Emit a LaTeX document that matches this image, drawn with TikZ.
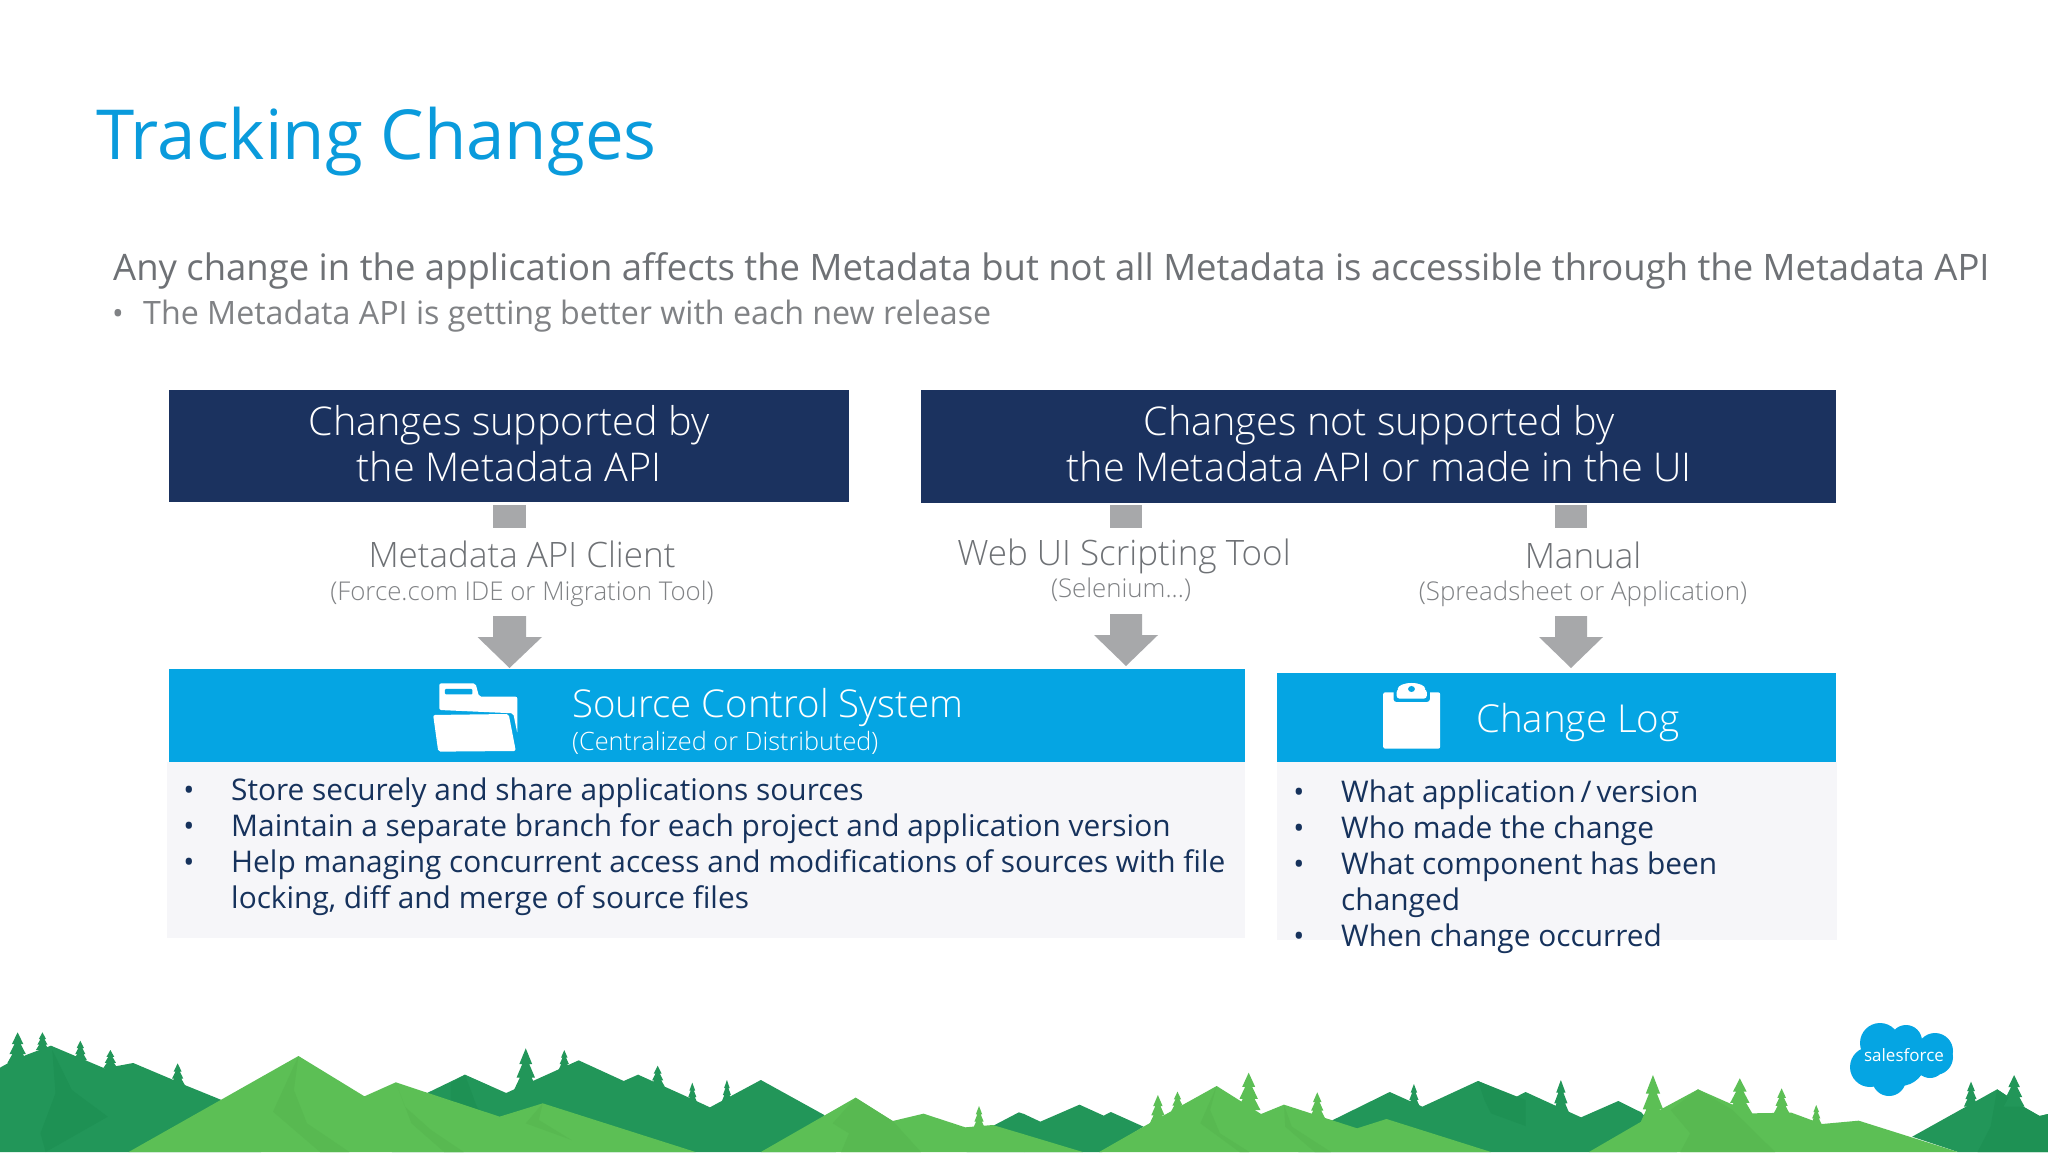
\documentclass[tikz,border=0pt]{standalone}
\usepackage{fontspec}
\setmainfont{Open Sans}
\newfontfamily\lightf{Open Sans Light}
\definecolor{ttl}{HTML}{0A9BDC}
\definecolor{gra}{HTML}{6E7175}
\definecolor{grb}{HTML}{808285}
\definecolor{navy}{HTML}{1B325F}
\definecolor{navt}{HTML}{16325C}
\definecolor{sky}{HTML}{05A5E3}
\definecolor{pane}{HTML}{F6F6F9}
\definecolor{arr}{HTML}{A7A8AA}
\definecolor{dk}{HTML}{229659}
\definecolor{dkb}{HTML}{1E9154}
\definecolor{lt}{HTML}{5CBF55}
\definecolor{ltb}{HTML}{58B951}
\newcommand{\fs}[1]{\fontsize{#1}{#1}\selectfont}
\newcommand{\firtree}[4]{% x, top, bottom, half width
  \fill (#1,#2) -- ({#1+0.55*#4},{#2+0.38*(#3-#2)}) -- ({#1+0.3*#4},{#2+0.38*(#3-#2)})
   -- ({#1+0.78*#4},{#2+0.7*(#3-#2)}) -- ({#1+0.5*#4},{#2+0.7*(#3-#2)}) -- ({#1+#4},#3)
   -- ({#1-#4},#3) -- ({#1-0.5*#4},{#2+0.7*(#3-#2)}) -- ({#1-0.78*#4},{#2+0.7*(#3-#2)})
   -- ({#1-0.3*#4},{#2+0.38*(#3-#2)}) -- ({#1-0.55*#4},{#2+0.38*(#3-#2)}) -- cycle;}
\tikzset{
 hdr/.style={fill=navy,draw=none},
 bar/.style={fill=sky,draw=none},
 panel/.style={fill=pane,draw=none},
 arrowfill/.style={fill=arr,draw=none},
 htext/.style={anchor=base,text=white,inner sep=0pt,font=\lightf\fs{39.6}},
 gt/.style={anchor=base,text=gra,inner sep=0pt,font=\lightf\fs{35}},
 gs/.style={anchor=base,text=grb,inner sep=0pt,font=\lightf\fs{25.85}},
 li/.style={anchor=base west,text=navt,inner sep=0pt,font=\fs{29.85}},
 bul/.style={anchor=base,text=navt,inner sep=0pt,font=\fs{29.5}},
 bt/.style={anchor=base west,text=white,inner sep=0pt},
}
\begin{document}
\begin{tikzpicture}[x=1pt,y=-1pt]
\useasboundingbox (0,0) rectangle (2048,1152);
\fill[white] (0,0) rectangle (2048,1152);
% mountains, left half
\begin{scope}[shift={(0,1000)},x=0.6531pt,y=-0.3333pt]
 \fill[dk] (0,456) -- (0,203) -- (12,190) -- (40,165) -- (78,137) -- (160,205) -- (204,189) -- (262,237) -- (284,256) -- (338,299) -- (400,456) -- cycle;
 \fill[dkb] (80,150) -- (110,270) -- (165,350) -- (70,456) -- (62,400) -- (85,280) -- cycle;
 \fill[dk] (600,456) -- (655,278) -- (712,224) -- (775,279) -- (825,235) -- (886,181) -- (955,243) -- (977,224) -- (1055,293) -- (1087,322) -- (1165,240) -- (1262,345) -- (1280,456) -- cycle;
 \fill[dk] (1480,456) -- (1520,378) -- (1560,337) -- (1568,342) -- (1568,456) -- cycle;
 \fill[dkb] (712,224) -- (730,320) -- (740,345) -- (690,320) -- (690,250) -- cycle;
 \begin{scope}[dk]
 \firtree{27}{97}{190}{16} \firtree{65}{97}{150}{10} \firtree{123}{122}{180}{10}
 \firtree{169}{150}{205}{11} \firtree{272}{190}{255}{11} \firtree{805}{145}{270}{18}
 \firtree{864}{150}{210}{9} \firtree{1007}{197}{260}{11} \firtree{1060}{248}{310}{8}
 \firtree{1113}{240}{305}{8}
 \end{scope}
 \begin{scope}[lt]
 \firtree{1499}{318}{385}{9}
 \end{scope}
 \fill[lt] (197,456) -- (457,168) -- (558,289) -- (606,247) -- (765,350) -- (831,310) -- (1065,456) -- cycle;
 \fill[ltb] (457,168) -- (450,270) -- (470,370) -- (535,456) -- (490,456) -- (418,335) -- cycle;
 \fill[ltb] (606,247) -- (620,320) -- (660,390) -- (710,456) -- (680,456) -- (630,370) -- cycle;
 \fill[ltb] (831,310) -- (825,360) -- (875,420) -- (805,370) -- cycle;
 \fill[lt] (1165,456) -- (1310,293) -- (1367,363) -- (1414,341) -- (1478,382) -- (1520,375) -- (1568,403) -- (1568,456) -- cycle;
 \fill[ltb] (1310,293) -- (1368,365) -- (1410,456) -- (1288,456) -- (1300,400) -- (1275,370) -- cycle;
\end{scope}
% mountains, right half
\begin{scope}[shift={(1024,1000)},x=0.6531pt,y=-0.3333pt]
 \fill[dk] (0,456) -- (0,342) -- (25,365) -- (85,314) -- (122,347) -- (133,336) -- (183,380) -- (120,456) -- cycle;
 \fill[dk] (420,456) -- (473,360) -- (560,276) -- (610,320) -- (695,243) -- (752,292) -- (768,276) -- (845,345) -- (853,352) -- (910,303) -- (945,337) -- (1000,456) -- cycle;
 \fill[dkb] (695,243) -- (768,300) -- (768,378) -- (715,340) -- (705,300) -- cycle;
 \fill[dk] (1360,410) -- (1490,268) -- (1530,320) -- (1555,348) -- (1568,342) -- (1568,456) -- (1430,456) -- cycle;
 \fill[dkb] (1490,268) -- (1530,320) -- (1555,348) -- (1568,342) -- (1568,456) -- (1460,456) -- (1480,380) -- cycle;
 \begin{scope}[dk]
 \firtree{597}{252}{320}{9} \firtree{822}{240}{340}{13}
 \firtree{1450}{245}{320}{11} \firtree{1516}{225}{320}{16}
 \end{scope}
 \begin{scope}[lt]
 \firtree{205}{285}{372}{13} \firtree{235}{275}{335}{10} \firtree{344}{218}{330}{18}
 \firtree{449}{277}{355}{12} \firtree{963}{225}{372}{20} \firtree{1096}{235}{340}{19}
 \firtree{1160}{265}{340}{12} \firtree{1213}{315}{372}{8}
 \end{scope}
 \fill[lt] (0,403) -- (90,456) -- (0,456) -- cycle;
 \fill[lt] (115,456) -- (183,380) -- (295,258) -- (363,342) -- (398,314) -- (510,385) -- (555,357) -- (715,456) -- cycle;
 \fill[ltb] (295,258) -- (285,330) -- (300,400) -- (345,456) -- (330,456) -- (270,370) -- cycle;
 \fill[ltb] (398,314) -- (410,380) -- (470,456) -- (445,456) -- (400,380) -- cycle;
 \fill[lt] (865,456) -- (945,365) -- (978,325) -- (1032,268) -- (1115,340) -- (1175,338) -- (1222,372) -- (1278,362) -- (1430,456) -- cycle;
 \fill[ltb] (1032,268) -- (1085,330) -- (1150,456) -- (1005,456) -- (1020,400) -- (990,330) -- cycle;
\end{scope}
% logo
\fill[sky] (1880,1043) circle (20) (1906,1041) circle (16) (1935,1051) circle (18)
 (1935,1057) circle (18) (1930,1063) circle (15) (1889,1079) circle (17)
 (1870,1067) circle (20) (1900,1060) circle (26);
\node[anchor=base,text=white,inner sep=0pt,font=\fs{17}] (logo) at (1904,1061) {salesforce};
% title and intro
\node[anchor=base west,text=ttl,inner sep=0pt,font=\fs{69}] (title) at (96,159) {Tracking Changes};
\node[anchor=base west,text=gra,inner sep=0pt,font=\fs{36.45}] (intro) at (113,280) {Any change in the application affects the Metadata but not all Metadata is accessible through the Metadata API};
\node[anchor=base,text=grb,inner sep=0pt,font=\fs{31}] (introb) at (118,324) {•};
\node[anchor=base west,text=grb,inner sep=0pt,font=\fs{32.2}] (introt) at (143,324) {The Metadata API is getting better with each new release};
% headers
\path[hdr] (169,390) rectangle (849,502);
\path[hdr] (921,390) rectangle (1836,503);
\node[htext] (h1a) at (509,435) {Changes supported by};
\node[htext] (h1b) at (509,481) {the Metadata API};
\node[htext] (h2a) at (1379,435) {Changes not supported by};
\node[htext] (h2b) at (1379,481) {the Metadata API or made in the UI};
% stubs and arrows
\path[arrowfill] (493,505) rectangle (526,528);
\path[arrowfill] (1110,505) rectangle (1142,528);
\path[arrowfill] (1555,505) rectangle (1587,528);
\path[arrowfill] (493,616) -- (526,616) -- (526,637) -- (542,637) -- (509.5,668) -- (477.5,637) -- (493,637) -- cycle;
\path[arrowfill] (1110,614) -- (1142,614) -- (1142,635) -- (1158,635) -- (1126,666) -- (1094,635) -- (1110,635) -- cycle;
\path[arrowfill] (1555,616) -- (1587,616) -- (1587,637) -- (1603,637) -- (1571,668) -- (1539,637) -- (1555,637) -- cycle;
\node[gt] (c1) at (522,567) {Metadata API Client};
\node[gs] (c1s) at (522,600) {(Force.com IDE or Migration Tool)};
\node[gt] (c2) at (1124,565) {Web UI Scripting Tool};
\node[gs] (c2s) at (1121,597) {(Selenium...)};
\node[gt] (c3) at (1583,568) {Manual};
\node[gs] (c3s) at (1583,600) {(Spreadsheet or Application)};
% panels
\path[panel] (167,762) rectangle (1245,938);
\path[panel] (1277,762) rectangle (1837,940);
\path[bar] (169,669) rectangle (1245,762);
\path[bar] (1277,673) rectangle (1836,762);
% folder icon
\begin{scope}[shift={(150,480)},x=0.5102pt,y=-0.3333pt]
 \fill[white,rounded corners=2pt] (567,690) -- (567,610) -- (638,610) -- (645,650) -- (720,650) -- (720,760) -- (712,700) -- cycle;
 \fill[sky,rounded corners=1pt] (578,627) rectangle (632,643);
 \fill[white,rounded corners=2pt] (555,705) -- (703,702) -- (717,813) -- (565,815) -- cycle;
\end{scope}
\node[bt,font=\lightf\fs{38.4}] (s1) at (572,717) {Source Control System};
\node[bt,font=\lightf\fs{25.3}] (s2) at (572,750) {(Centralized or Distributed)};
% clipboard icon
\begin{scope}[shift={(1250,500)},x=0.3827pt,y=-0.3333pt]
 \fill[white,rounded corners=2pt] (348,577) rectangle (497,746);
 \fill[sky,rounded corners=3pt] (375,560) rectangle (470,606);
 \fill[white,rounded corners=3pt] (383,568) rectangle (462,596);
 \fill[white] (422,567) ellipse (36 and 18);
 \fill[sky] (422,567) ellipse (9 and 9);
\end{scope}
\node[bt,font=\lightf\fs{38.5}] (s3) at (1476,732) {Change Log};
% lists
\node[bul] (b1) at (189,800) {•};
\node[bul] (b2) at (189,836) {•};
\node[bul] (b3) at (189,872) {•};
\node[li] (l1) at (231,800) {Store securely and share applications sources};
\node[li] (l2) at (231,836) {Maintain a separate branch for each project and application version};
\node[li] (l3) at (231,872) {Help managing concurrent access and modifications of sources with file};
\node[li] (l3b) at (231,908) {locking, diff and merge of source files};
\node[bul] (r1) at (1299,802) {•};
\node[bul] (r2) at (1299,838) {•};
\node[bul] (r3) at (1299,874) {•};
\node[bul] (r4) at (1299,946) {•};
\node[li] (m1) at (1341,802) {What application\,/\,version};
\node[li] (m2) at (1341,838) {Who made the change};
\node[li] (m3) at (1341,874) {What component has been};
\node[li] (m3b) at (1341,910) {changed};
\node[li] (m4) at (1341,946) {When change occurred};
\end{tikzpicture}
\end{document}
